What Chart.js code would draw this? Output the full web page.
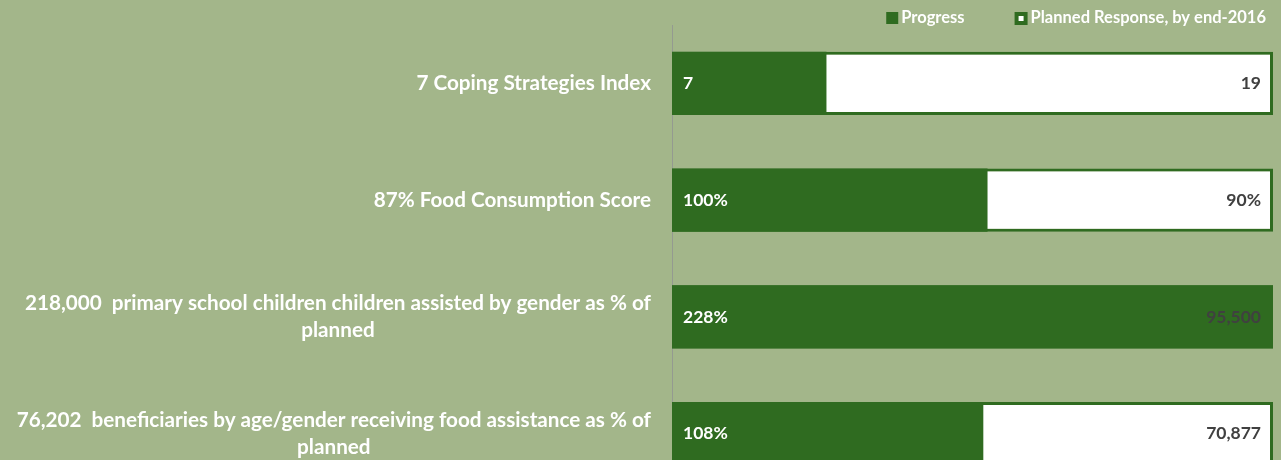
<!DOCTYPE html>
<html>
<head>
<meta charset="utf-8">
<script src="https://cdn.jsdelivr.net/npm/chart.js@4.4.1/dist/chart.umd.min.js"></script>
<style>
  html, body { margin: 0; padding: 0; background: #a3b68a; overflow: hidden; }
  #wrap { width: 1281px; height: 492px; position: relative; }
</style>
</head>
<body>
<div id="wrap"><canvas id="chart"></canvas></div>
<script>
// indicator names (one entry per bar, multi-line where the label wraps)
const categories = [
    ['7 Coping Strategies Index'],
    ['87% Food Consumption Score'],
    ['218,000  primary school children children assisted by gender as % of', 'planned'],
    ['76,202  beneficiaries by age/gender receiving food assistance as % of', 'planned']
];
// bar lengths (planned = full length)
const progressValues = [25.7, 52.5, 100, 51.8];
const plannedValues = [100, 100, 100, 100];
// the text printed on the bars
const progressLabels = ['7', '100%', '228%', '108%'];
const plannedLabels = ['19', '90%', '95,500', '70,877'];

const green = '#2f6b20';
const font = 'Lato';

const textPlugin = {
    id: 'textPlugin',
    afterDatasetsDraw(chart) {
        const ctx = chart.ctx;
        const yScale = chart.scales.y;
        const progMeta = chart.getDatasetMeta(0);
        const planMeta = chart.getDatasetMeta(1);
        ctx.save();
        ctx.textBaseline = 'middle';

        // values on the bars
        ctx.font = 'bold 17.5px ' + font;
        progMeta.data.forEach((bar, i) => {
            ctx.fillStyle = '#ffffff';
            ctx.textAlign = 'left';
            ctx.fillText(progressLabels[i], bar.base + 11, bar.y);
            const pb = planMeta.data[i];
            ctx.fillStyle = '#404040';
            ctx.textAlign = 'right';
            ctx.fillText(plannedLabels[i], pb.x - 12, pb.y);
        });

        // category names, right aligned block with centred lines
        ctx.font = 'bold 20.7px ' + font;
        ctx.fillStyle = '#ffffff';
        ctx.textAlign = 'center';
        const right = chart.chartArea.left - 21;
        const lineH = 27;
        categories.forEach((lines, i) => {
            const yc = yScale.getPixelForValue(i);
            const w = Math.max(...lines.map(l => ctx.measureText(l).width));
            const cx = right - w / 2;
            lines.forEach((l, j) => {
                ctx.fillText(l, cx, yc + (j - (lines.length - 1) / 2) * lineH);
            });
        });

        // legend
        ctx.font = 'bold 16.5px ' + font;
        const ly = 18;
        const planText = 'Planned Response, by end-2016';
        const progText = 'Progress';
        const planX = 1266 - ctx.measureText(planText).width;
        const planBox = planX - 16;
        const progX = planBox - 50 - ctx.measureText(progText).width;
        const progBox = progX - 15;
        ctx.fillStyle = green;
        ctx.fillRect(progBox, 12, 12, 12);
        ctx.fillRect(planBox, 12, 13, 13);
        ctx.fillStyle = '#ffffff';
        ctx.fillRect(planBox + 4, 16, 5, 5);
        ctx.textAlign = 'left';
        ctx.fillText(progText, progX, ly);
        ctx.fillText(planText, planX, ly);
        ctx.restore();
    }
};

new Chart(document.getElementById('chart'), {
    type: 'bar',
    data: {
        labels: categories,
        datasets: [{
            label: 'Progress',
            data: progressValues,
            backgroundColor: green,
            borderWidth: 0,
            grouped: false,
            barPercentage: 0.54,
            categoryPercentage: 1
        }, {
            label: 'Planned Response, by end-2016',
            data: plannedValues,
            backgroundColor: '#ffffff',
            borderColor: green,
            borderWidth: 3,
            borderSkipped: false,
            grouped: false,
            barPercentage: 0.54,
            categoryPercentage: 1
        }]
    },
    options: {
        indexAxis: 'y',
        responsive: true,
        maintainAspectRatio: false,
        animation: false,
        layout: { padding: { top: 25, right: 8, bottom: 0, left: 0 } },
        plugins: {
            legend: { display: false },
            tooltip: { enabled: false }
        },
        scales: {
            x: { min: 0, max: 100, display: false },
            y: {
                ticks: { display: false },
                grid: { display: false },
                border: { color: '#949a90', width: 1 },
                afterFit: (scale) => { scale.width = 672; }
            }
        }
    },
    plugins: [textPlugin]
});
</script>
</body>
</html>
